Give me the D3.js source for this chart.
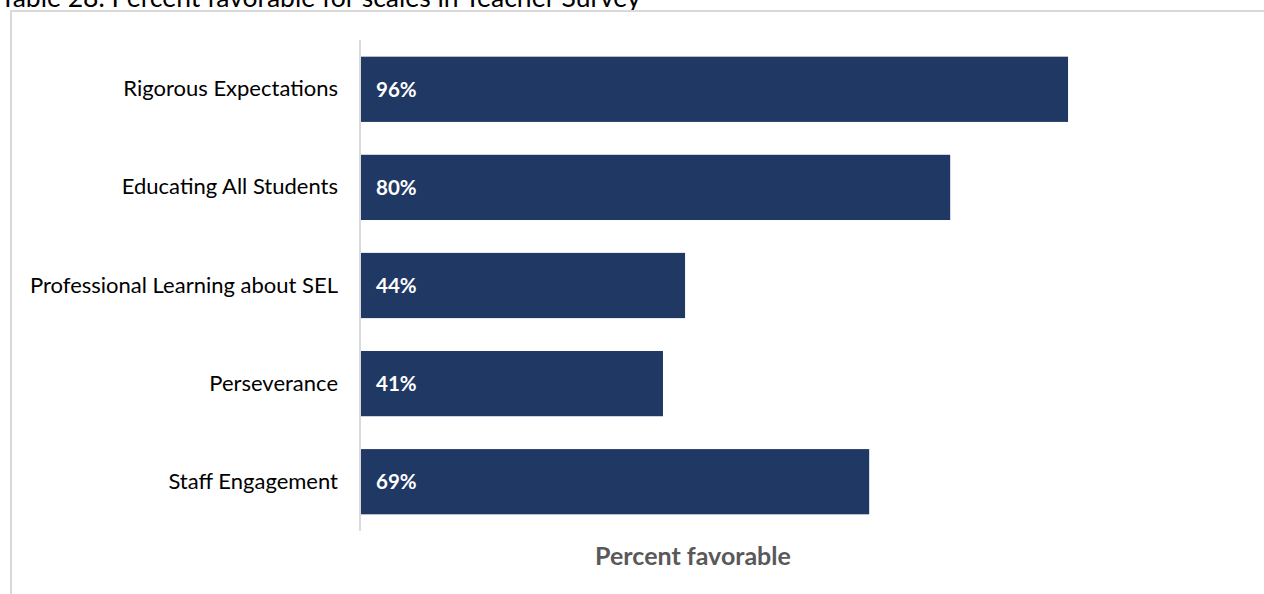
<!DOCTYPE html>
<html>
<head>
<meta charset="utf-8">
<script src="https://cdn.jsdelivr.net/npm/d3@7"></script>
<style>
  html, body { margin: 0; padding: 0; background: #fff; overflow: hidden; }
  svg { display: block; }
</style>
</head>
<body>
<svg id="chart" width="1264" height="594"></svg>
<script>
// Survey scales and their percent favorable
const categories = [
  "Rigorous Expectations",
  "Educating All Students",
  "Professional Learning about SEL",
  "Perseverance",
  "Staff Engagement"
];
const values = [96, 80, 44, 41, 69];
const titleText = "Table 28. Percent favorable for scales in Teacher Survey";
const axisTitle = "Percent favorable";

const FONT = "Lato, 'Open Sans', 'Liberation Sans', sans-serif";
const svg = d3.select("#chart");

// Title, partly clipped by the top edge
svg.append("text")
  .attr("x", 0)
  .attr("y", 7)
  .attr("font-family", FONT)
  .attr("font-size", 26.5)
  .attr("fill", "#000")
  .text(titleText);

// Chart frame (top and left edges visible)
svg.append("path")
  .attr("d", "M11,594 V11 H1264")
  .attr("fill", "none")
  .attr("stroke", "#d9d9d9")
  .attr("stroke-width", 2);

const x = d3.scaleLinear().domain([0, 100]).range([361, 1097.5]);
const y = d3.scaleBand().domain(categories).range([40, 531]).paddingInner(0.335).paddingOuter(0.17);

// Bars
svg.append("g").selectAll("rect")
  .data(categories)
  .join("rect")
  .attr("x", x(0))
  .attr("y", d => y(d))
  .attr("width", (d, i) => x(values[i]) - x(0))
  .attr("height", y.bandwidth())
  .attr("fill", "#203864");

// Category axis
const yAxis = svg.append("g")
  .attr("transform", `translate(${x(0) - 1},0)`)
  .call(d3.axisLeft(y).tickSize(0).tickPadding(22));
yAxis.select(".domain").attr("stroke", "#d9d9d9").attr("stroke-width", 2)
  .attr("d", "M0,40 V531");
yAxis.selectAll("text")
  .attr("font-family", FONT)
  .attr("font-size", 22)
  .attr("fill", "#000");

// Value labels inside bars
svg.append("g").selectAll("text")
  .data(categories)
  .join("text")
  .attr("x", x(0) + 15)
  .attr("y", d => y(d) + y.bandwidth() / 2)
  .attr("dy", "0.36em")
  .attr("font-family", FONT)
  .attr("font-size", 20.5)
  .attr("font-weight", "bold")
  .attr("fill", "#fff")
  .text((d, i) => values[i] + "%");

// Axis title
svg.append("text")
  .attr("x", 693)
  .attr("y", 565)
  .attr("text-anchor", "middle")
  .attr("font-family", FONT)
  .attr("font-size", 25)
  .attr("font-weight", "bold")
  .attr("fill", "#595959")
  .text(axisTitle);
</script>
</body>
</html>
